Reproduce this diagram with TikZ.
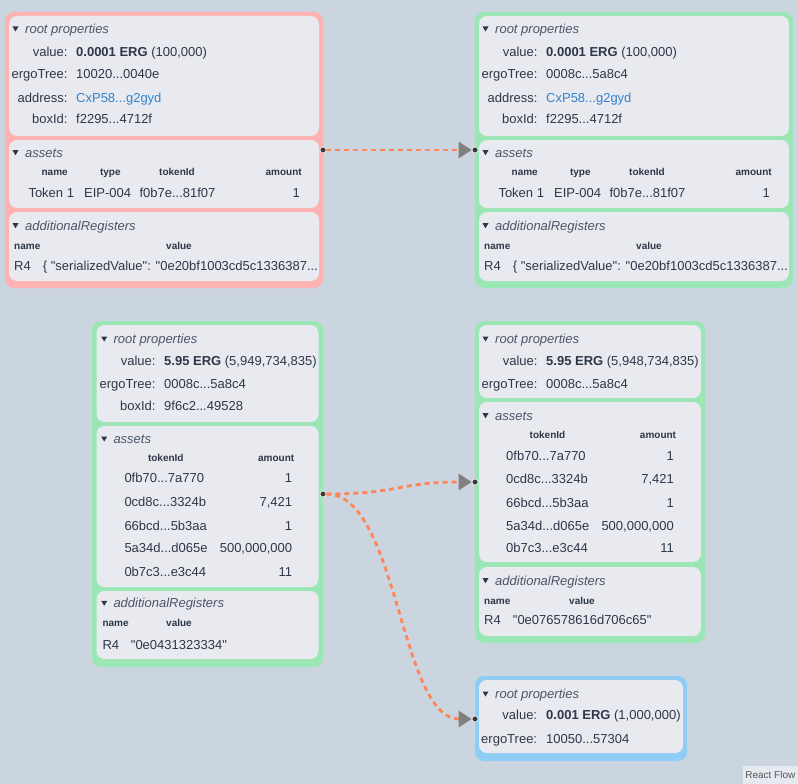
\documentclass[tikz,border=0pt]{standalone}
\usepackage{fontspec}
\setmainfont{Liberation Sans}[Ligatures=TeXOff]
\usetikzlibrary{arrows.meta}
\definecolor{bg}{HTML}{CBD5E0}
\definecolor{pinkb}{HTML}{FEB2B2}
\definecolor{greenb}{HTML}{9AE6B4}
\definecolor{blueb}{HTML}{90CDF4}
\definecolor{secbg}{HTML}{E9EAEF}
\definecolor{txt}{HTML}{2D3748}
\definecolor{ttl}{HTML}{4A5568}
\definecolor{lnk}{HTML}{3182CE}
\definecolor{edgec}{HTML}{FF8457}
\definecolor{arrg}{HTML}{808080}
\definecolor{hdl}{HTML}{3A3A3A}
\definecolor{rfbg}{HTML}{E5EAF0}
\definecolor{rftxt}{HTML}{555555}
\pgfdeclarelayer{back}
\pgfdeclarelayer{links}
\pgfsetlayers{back,links,main}
\tikzset{
 outerbox/.style={anchor=north west, inner sep=0pt, outer sep=0pt, rounded corners=9pt, fill=#1},
 secbox/.style={anchor=north west, inner sep=0pt, outer sep=0pt, rounded corners=8pt, fill=secbg},
 ttltext/.style={anchor=base west, inner sep=0pt, text=ttl, font=\fontsize{13}{15}\selectfont\itshape},
 lbl/.style={anchor=base east, inner sep=0pt, text=txt, font=\fontsize{13}{15}\selectfont},
 val/.style={anchor=base west, inner sep=0pt, text=txt, font=\fontsize{13}{15}\selectfont},
 num/.style={anchor=base east, inner sep=0pt, text=txt, font=\fontsize{13}{15}\selectfont},
 hdr/.style={anchor=base, inner sep=0pt, text=txt, font=\fontsize{10}{12}\selectfont\bfseries},
 hdrw/.style={hdr, anchor=base west},
 handle/.style={circle, fill=hdl, draw=white, line width=0.6pt, inner sep=0pt, minimum size=6pt},
 link/.style={draw=edgec, line width=2.8pt, dash pattern=on 5pt off 4pt, -{Triangle[length=13pt,width=16pt,color=arrg]}},
}
\newcommand\mk[2]{\fill[txt] (#1-3,#2-2.5) -- (#1+3,#2-2.5) -- (#1,#2+2.5) -- cycle;}
\newcommand\topbox[4]{%
\begin{scope}[xshift=#2pt]
\node[outerbox=#3, minimum width=318pt, minimum height=276pt] (#1) at (5,12) {};
\node[secbox, minimum width=310pt, minimum height=120pt] (#1a) at (9,16) {};
\node[secbox, minimum width=310pt, minimum height=68pt] (#1b) at (9,140) {};
\node[secbox, minimum width=310pt, minimum height=69pt] (#1c) at (9,212) {};
\mk{15.5}{29}
\node[ttltext] (#1t1) at (25,33.5) {root properties};
\node[lbl] (#1l1) at (67.7,56.2) {value:};
\node[lbl] (#1l2) at (67.7,78.5) {ergoTree:};
\node[lbl] (#1l3) at (67.7,102.2) {address:};
\node[lbl] (#1l4) at (67.7,123.8) {boxId:};
\node[val] (#1v1) at (76,56.2) {\textbf{0.0001 ERG} (100,000)};
\node[val] (#1v2) at (76,78.5) {#4};
\node[val, text=lnk] (#1v3) at (76,102.2) {CxP58...g2gyd};
\node[val] (#1v4) at (76,123.8) {f2295...4712f};
\mk{15.5}{152.7}
\node[ttltext] (#1t2) at (25,157.2) {assets};
\node[hdr] (#1h1) at (54.7,175.9) {name};
\node[hdr] (#1h2) at (110.3,175.9) {type};
\node[hdr] (#1h3) at (177,175.9) {tokenId};
\node[hdr] (#1h4) at (283.7,175.9) {amount};
\node[val] (#1r1) at (28.3,197.8) {Token 1};
\node[val] (#1r2) at (84,197.8) {EIP-004};
\node[val] (#1r3) at (139.3,197.8) {f0b7e...81f07};
\node[num] (#1r4) at (300,197.8) {1};
\mk{15.5}{225.7}
\node[ttltext] (#1t3) at (25,230.2) {additionalRegisters};
\node[hdrw] (#1h5) at (14,249.3) {name};
\node[hdrw] (#1h6) at (166,249.3) {value};
\node[val] (#1r5) at (14,270.2) {R4};
\node[val] (#1r6) at (42.7,270.2) {\{ "serializedValue": "0e20bf1003cd5c1336387...};
\end{scope}}
\begin{document}
\begin{tikzpicture}[x=1pt,y=-1pt]
\begin{pgfonlayer}{back}
\fill[bg] (0,0) rectangle (798,784);
\end{pgfonlayer}
\useasboundingbox (0,0) rectangle (798,784);
% top boxes
\topbox{tl}{0}{pinkb}{10020...0040e}
\topbox{tr}{470}{greenb}{0008c...5a8c4}
% middle left box
\node[outerbox=greenb, minimum width=231pt, minimum height=346pt] (ml) at (92,321) {};
\node[secbox, minimum width=222pt, minimum height=97pt] (mla) at (96.5,325) {};
\node[secbox, minimum width=222pt, minimum height=161pt] (mlb) at (96.5,426) {};
\node[secbox, minimum width=222pt, minimum height=68pt] (mlc) at (96.5,591) {};
\mk{104.2}{339}
\node[ttltext] (mlt1) at (113.3,343.5) {root properties};
\node[lbl] (mll1) at (155.7,365.2) {value:};
\node[lbl] (mll2) at (155.7,388.5) {ergoTree:};
\node[lbl] (mll3) at (155.7,410.5) {boxId:};
\node[val] (mlv1) at (164,365.2) {\textbf{5.95 ERG} (5,949,734,835)};
\node[val] (mlv2) at (164,388.5) {0008c...5a8c4};
\node[val] (mlv3) at (164,410.5) {9f6c2...49528};
\mk{104.2}{439}
\node[ttltext] (mlt2) at (113.3,443.5) {assets};
\node[hdr] (mlh1) at (165.8,461.9) {tokenId};
\node[hdr] (mlh2) at (276.2,461.9) {amount};
\node[val] (mlk1) at (124.3,482.8) {0fb70...7a770};
\node[val] (mlk2) at (124.3,506.8) {0cd8c...3324b};
\node[val] (mlk3) at (124.3,530.2) {66bcd...5b3aa};
\node[val] (mlk4) at (124.3,552.8) {5a34d...d065e};
\node[val] (mlk5) at (124.3,576.2) {0b7c3...e3c44};
\node[num] (mla1) at (292.3,482.8) {1};
\node[num] (mla2) at (292.3,506.8) {7,421};
\node[num] (mla3) at (292.3,530.2) {1};
\node[num] (mla4) at (292.3,552.8) {500,000,000};
\node[num] (mla5) at (292.3,576.2) {11};
\mk{104.2}{603.3}
\node[ttltext] (mlt3) at (113.3,607.8) {additionalRegisters};
\node[hdrw] (mlh3) at (102.3,626.9) {name};
\node[hdrw] (mlh4) at (166,626.9) {value};
\node[val] (mlr1) at (102.3,649.5) {R4};
\node[val] (mlr2) at (130.7,649.5) {"0e0431323334"};
% middle right box
\node[outerbox=greenb, minimum width=230pt, minimum height=322pt] (mr) at (475,321) {};
\node[secbox, minimum width=222pt, minimum height=73pt] (mra) at (479,325) {};
\node[secbox, minimum width=222pt, minimum height=160pt] (mrb) at (479,402) {};
\node[secbox, minimum width=222pt, minimum height=69pt] (mrc) at (479,567) {};
\mk{485.5}{339}
\node[ttltext] (mrt1) at (495,343.5) {root properties};
\node[lbl] (mrl1) at (537.7,365.2) {value:};
\node[lbl] (mrl2) at (537.7,388.5) {ergoTree:};
\node[val] (mrv1) at (546,365.2) {\textbf{5.95 ERG} (5,948,734,835)};
\node[val] (mrv2) at (546,388.5) {0008c...5a8c4};
\mk{485.5}{415.7}
\node[ttltext] (mrt2) at (495,420.2) {assets};
\node[hdr] (mrh1) at (547.5,438.6) {tokenId};
\node[hdr] (mrh2) at (658,438.6) {amount};
\node[val] (mrk1) at (506,460.2) {0fb70...7a770};
\node[val] (mrk2) at (506,483.5) {0cd8c...3324b};
\node[val] (mrk3) at (506,507.2) {66bcd...5b3aa};
\node[val] (mrk4) at (506,530.2) {5a34d...d065e};
\node[val] (mrk5) at (506,552.8) {0b7c3...e3c44};
\node[num] (mra1) at (674,460.2) {1};
\node[num] (mra2) at (674,483.5) {7,421};
\node[num] (mra3) at (674,507.2) {1};
\node[num] (mra4) at (674,530.2) {500,000,000};
\node[num] (mra5) at (674,552.8) {11};
\mk{485.5}{580.7}
\node[ttltext] (mrt3) at (495,585.2) {additionalRegisters};
\node[hdrw] (mrh3) at (484,604.3) {name};
\node[hdrw] (mrh4) at (569,604.3) {value};
\node[val] (mrr1) at (484,624.5) {R4};
\node[val] (mrr2) at (512.7,624.5) {"0e076578616d706c65"};
% bottom right box
\node[outerbox=blueb, minimum width=212pt, minimum height=85pt] (br) at (475,676) {};
\node[secbox, minimum width=204pt, minimum height=73pt] (bra) at (479,680) {};
\mk{485.5}{694}
\node[ttltext] (brt1) at (495,698.5) {root properties};
\node[lbl] (brl1) at (537.3,719.5) {value:};
\node[lbl] (brl2) at (537.3,743.8) {ergoTree:};
\node[val] (brv1) at (546,719.5) {\textbf{0.001 ERG} (1,000,000)};
\node[val] (brv2) at (546,743.8) {10050...57304};
% handles
\node[handle] (tlh) at (323,150) {};
\node[handle] (trh) at (475,150) {};
\node[handle] (mlhd) at (323,494) {};
\node[handle] (mrhd) at (475,482) {};
\node[handle] (brhd) at (475,719) {};
% edges
\begin{pgfonlayer}{links}
\draw[link] (tlh) -- (trh);
\draw[link] (mlhd) .. controls +(75.5,0) and +(-75.5,0) .. (mrhd);
\draw[link] (mlhd) .. controls +(75.5,0) and +(-75.5,0) .. (brhd);
\end{pgfonlayer}
% attribution
\node[anchor=south east, fill=rfbg, inner sep=0pt, minimum width=55pt, minimum height=18pt, text=rftxt, font=\fontsize{10}{12}\selectfont] (rf) at (798,784) {React Flow};
\end{tikzpicture}
\end{document}
